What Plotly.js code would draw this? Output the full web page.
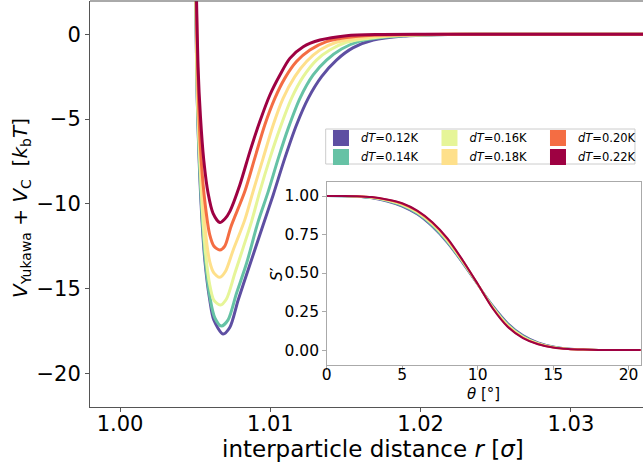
<!DOCTYPE html>
<html>
<head>
<meta charset="utf-8">
<script src="https://cdn.plot.ly/plotly-3.0.1.min.js"></script>
<style>html,body{margin:0;padding:0;background:#fff;}#chart{width:643px;height:468px;}</style>
</head>
<body>
<div id="chart"></div>
<script>
// ---- Data ----
const labels = ["dT=0.12K", "dT=0.14K", "dT=0.16K", "dT=0.18K", "dT=0.20K", "dT=0.22K"];
const colors = ["#5e4fa2", "#66c2a5", "#e6f598", "#fee08b", "#f46d43", "#9e0142"];

// main panel: interparticle distance r [sigma] vs V [kbT]
const r_012 = [1.00500, 1.00504, 1.00514, 1.00538, 1.00564, 1.00597, 1.00624, 1.00685, 1.00730, 1.00786, 1.00852, 1.00952, 1.01019, 1.01096, 1.01174, 1.01252, 1.01341, 1.01440, 1.01552, 1.01685, 1.01884, 1.02107, 1.0250, 1.0300, 1.0360];
const V_012 = [4.5, 2.02, -3.88, -9.78, -13.31, -15.68, -16.86, -17.68, -17.30, -15.68, -13.91, -11.25, -9.48, -7.32, -5.35, -3.78, -2.50, -1.52, -0.79, -0.34, -0.10, -0.02, 0, 0, 0];

const r_014 = [1.00500, 1.00504, 1.00514, 1.00540, 1.00567, 1.00601, 1.00631, 1.00674, 1.00719, 1.00775, 1.00842, 1.00919, 1.00986, 1.01053, 1.01119, 1.01197, 1.01285, 1.01374, 1.01474, 1.01596, 1.01774, 1.01995, 1.0240, 1.0300, 1.0360];
const V_014 = [4.5, 2.02, -3.88, -9.78, -13.31, -15.68, -16.74, -17.21, -16.85, -15.28, -13.51, -11.05, -9.28, -7.32, -5.55, -3.78, -2.40, -1.52, -0.87, -0.40, -0.16, -0.04, 0, 0, 0];

const r_016 = [1.00501, 1.00505, 1.00516, 1.00544, 1.00567, 1.00597, 1.00624, 1.00668, 1.00709, 1.00764, 1.00819, 1.00875, 1.00930, 1.00997, 1.01064, 1.01141, 1.01219, 1.01307, 1.01396, 1.01507, 1.01685, 1.01907, 1.0230, 1.0300, 1.0360];
const V_016 = [4.5, 2.02, -3.88, -9.78, -12.73, -14.79, -15.68, -15.97, -15.60, -14.10, -12.60, -11.05, -9.28, -7.32, -5.55, -3.78, -2.50, -1.52, -0.93, -0.47, -0.20, -0.06, 0, 0, 0];

const r_018 = [1.00502, 1.00506, 1.00517, 1.00542, 1.00567, 1.00597, 1.00624, 1.00664, 1.00701, 1.00752, 1.00830, 1.00885, 1.00952, 1.01019, 1.01085, 1.01163, 1.01241, 1.01330, 1.01440, 1.01618, 1.01840, 1.0226, 1.0300, 1.0360];
const V_018 = [4.5, 2.02, -3.88, -8.60, -11.55, -13.43, -14.08, -14.34, -14.00, -12.75, -10.95, -9.28, -7.32, -5.35, -3.78, -2.50, -1.61, -0.93, -0.47, -0.20, -0.06, 0, 0, 0];

const r_020 = [1.00503, 1.00507, 1.00522, 1.00540, 1.00567, 1.00597, 1.00624, 1.00664, 1.00697, 1.00738, 1.00830, 1.00896, 1.00963, 1.01030, 1.01096, 1.01174, 1.01263, 1.01374, 1.01552, 1.01774, 1.0216, 1.0300, 1.0360];
const V_020 = [4.5, 2.02, -3.88, -7.42, -10.07, -11.84, -12.49, -12.73, -12.50, -11.35, -9.28, -7.32, -5.35, -3.78, -2.60, -1.61, -0.93, -0.43, -0.14, -0.04, 0, 0, 0];

const r_022 = [1.00505, 1.00509, 1.00519, 1.00535, 1.00557, 1.00586, 1.00619, 1.00664, 1.00697, 1.00730, 1.00797, 1.00864, 1.00930, 1.00997, 1.01064, 1.01130, 1.01219, 1.01330, 1.01507, 1.01729, 1.0212, 1.0300, 1.0360];
const V_022 = [4.5, 2.02, -1.91, -4.86, -7.42, -9.38, -10.56, -11.11, -10.90, -10.46, -8.89, -6.92, -5.15, -3.58, -2.40, -1.42, -0.73, -0.34, -0.08, -0.01, 0, 0, 0];

// inset: theta [deg] vs S'
const theta = [0,1,2,3,4,5,6,7,8,9,10,11,12,13,14,15,16,17,18,19,20,21];
const S_012 = [1.0,0.999,0.995,0.985,0.965,0.932,0.880,0.800,0.695,0.565,0.425,0.290,0.175,0.097,0.050,0.024,0.010,0.004,0.001,0,0,0];
const S_014 = [1.0,0.999,0.996,0.987,0.968,0.936,0.885,0.806,0.700,0.568,0.426,0.286,0.170,0.093,0.047,0.022,0.009,0.004,0.001,0,0,0];
const S_016 = [1.0,1.0,0.997,0.989,0.971,0.942,0.892,0.815,0.708,0.574,0.427,0.280,0.163,0.088,0.044,0.020,0.008,0.003,0.001,0,0,0];
const S_018 = [1.0,1.0,0.998,0.991,0.974,0.947,0.898,0.822,0.715,0.578,0.428,0.276,0.157,0.083,0.041,0.018,0.007,0.003,0.001,0,0,0];
const S_020 = [1.0,1.0,0.998,0.992,0.976,0.950,0.902,0.826,0.720,0.582,0.429,0.273,0.153,0.080,0.039,0.017,0.007,0.003,0.001,0,0,0];
const S_022 = [1.0,1.0,0.999,0.993,0.977,0.953,0.905,0.830,0.725,0.585,0.430,0.270,0.150,0.078,0.038,0.017,0.007,0.003,0.001,0,0,0];

const xTickVals = [1.00, 1.01, 1.02, 1.03];
const xTickText = ["1.00", "1.01", "1.02", "1.03"];
const yTickVals = [-20, -15, -10, -5, 0];
const insetXTicks = [0, 5, 10, 15, 20];
const insetYTicks = [0, 0.25, 0.5, 0.75, 1.0];
const insetYText = ["0.00", "0.25", "0.50", "0.75", "1.00"];

// legend columns (column-major, like the reference)
const legendOf = ["legend", "legend", "legend2", "legend2", "legend3", "legend3"];

// ---- Traces ----
const mainR = [r_012, r_014, r_016, r_018, r_020, r_022];
const mainV = [V_012, V_014, V_016, V_018, V_020, V_022];
const insetS = [S_012, S_014, S_016, S_018, S_020, S_022];

const traces = [];
for (let i = 0; i < 6; i++) {
  traces.push({
    type: "scatter", mode: "lines", x: mainR[i], y: mainV[i],
    line: {color: colors[i], width: 3, shape: "spline", smoothing: 0.8},
    showlegend: false, hoverinfo: "skip", xaxis: "x", yaxis: "y"
  });
}
for (let i = 0; i < 6; i++) {
  traces.push({
    type: "scatter", mode: "lines", x: theta, y: insetS[i],
    line: {color: colors[i], width: 2, shape: "spline", smoothing: 0.8},
    showlegend: false, hoverinfo: "skip", xaxis: "x2", yaxis: "y2"
  });
}
for (let i = 0; i < 6; i++) {
  traces.push({
    type: "scatter", mode: "markers", x: [null], y: [null],
    marker: {symbol: "square", size: 16, color: colors[i], line: {width: 0}},
    name: labels[i].replace("dT", "<i>dT</i>"),
    legend: legendOf[i], showlegend: true, xaxis: "x", yaxis: "y"
  });
}

const spineMain = "#555";
const spineInset = "#aaa";
const legFont = {size: 11.5, family: "DejaVu Sans", color: "#000"};
function legendAt(x) {
  return {x: x, y: 0.6983, xanchor: "left", yanchor: "top", orientation: "v",
          bgcolor: "rgba(0,0,0,0)", borderwidth: 0, font: legFont, tracegroupgap: 0};
}

const layout = {
  width: 643, height: 468,
  margin: {l: 90, r: 0, t: 1, b: 61, pad: 0},
  paper_bgcolor: "#fff", plot_bgcolor: "#fff",
  font: {family: "DejaVu Sans", color: "#000"},
  showlegend: true,
  xaxis: {
    range: [0.998, 1.0348], domain: [0, 1],
    tickvals: xTickVals, ticktext: xTickText,
    ticks: "outside", ticklen: 4, tickwidth: 1, tickcolor: spineMain,
    ticklabelstandoff: -6,
    showline: true, linecolor: spineMain, linewidth: 1,
    showgrid: false, zeroline: false,
    tickfont: {size: 21, family: "DejaVu Sans"}
  },
  yaxis: {
    range: [-21.99, 1.965], domain: [0, 1],
    tickvals: yTickVals,
    ticks: "outside", ticklen: 4, tickwidth: 1, tickcolor: spineMain,
    showline: true, linecolor: spineMain, linewidth: 1,
    showgrid: false, zeroline: false,
    tickfont: {size: 21, family: "DejaVu Sans"}
  },
  xaxis2: {
    domain: [0.428, 0.9958], anchor: "y2", range: [0, 20.8],
    tickvals: insetXTicks,
    ticks: "outside", ticklen: 3.5, tickwidth: 1, tickcolor: spineInset,
    ticklabelstandoff: -8,
    showline: true, mirror: true, linecolor: spineInset, linewidth: 1,
    showgrid: false, zeroline: false,
    tickfont: {size: 15.5, family: "DejaVu Sans"}
  },
  yaxis2: {
    domain: [0.1034, 0.5549], anchor: "x2", range: [-0.097, 1.093],
    tickvals: insetYTicks, ticktext: insetYText,
    ticks: "outside", ticklen: 3.5, tickwidth: 1, tickcolor: spineInset,
    showline: true, mirror: true, linecolor: spineInset, linewidth: 1,
    showgrid: false, zeroline: false,
    tickfont: {size: 15.5, family: "DejaVu Sans"}
  },
  legend: legendAt(0.4177),
  legend2: legendAt(0.6139),
  legend3: legendAt(0.8101),
  annotations: [
    {text: "interparticle distance <i>r</i> [<i>σ</i>]", xref: "paper", yref: "paper",
     x: 0.5112, y: -0.103, xanchor: "center", yanchor: "middle", showarrow: false,
     font: {size: 23, family: "DejaVu Sans", color: "#000"}},
    {text: "<i>V</i><sub>Yukawa</sub> + <i>V</i><sub>C</sub>\u00a0\u00a0[<i>k</i><sub>b</sub><i>T</i>]",
     xref: "paper", yref: "paper", x: -0.1248, y: 0.49, xanchor: "center", yanchor: "middle",
     textangle: -90, showarrow: false, font: {size: 20, family: "DejaVu Sans", color: "#000"}},
    {text: "<i>θ</i> [°]", xref: "paper", yref: "paper", x: 0.7119, y: 0.032,
     xanchor: "center", yanchor: "middle", showarrow: false,
     font: {size: 15, family: "DejaVu Sans", color: "#000"}},
    {text: "<i>S</i>′", xref: "paper", yref: "paper", x: 0.339, y: 0.329,
     xanchor: "center", yanchor: "middle", textangle: -90, showarrow: false,
     font: {size: 15.5, family: "DejaVu Sans", color: "#000"}}
  ],
  shapes: [
    {type: "line", xref: "paper", yref: "paper", x0: 0, x1: 1, y0: 1, y1: 1,
     line: {color: spineMain, width: 1}, layer: "above"},
    {type: "rect", xref: "paper", yref: "paper", x0: 0.4262, x1: 0.9855, y0: 0.5985, y1: 0.6847,
     fillcolor: "#fff", line: {color: "#ccc", width: 1}, layer: "above"}
  ]
};

Plotly.newPlot("chart", traces, layout, {staticPlot: true, displayModeBar: false});
</script>
</body>
</html>
